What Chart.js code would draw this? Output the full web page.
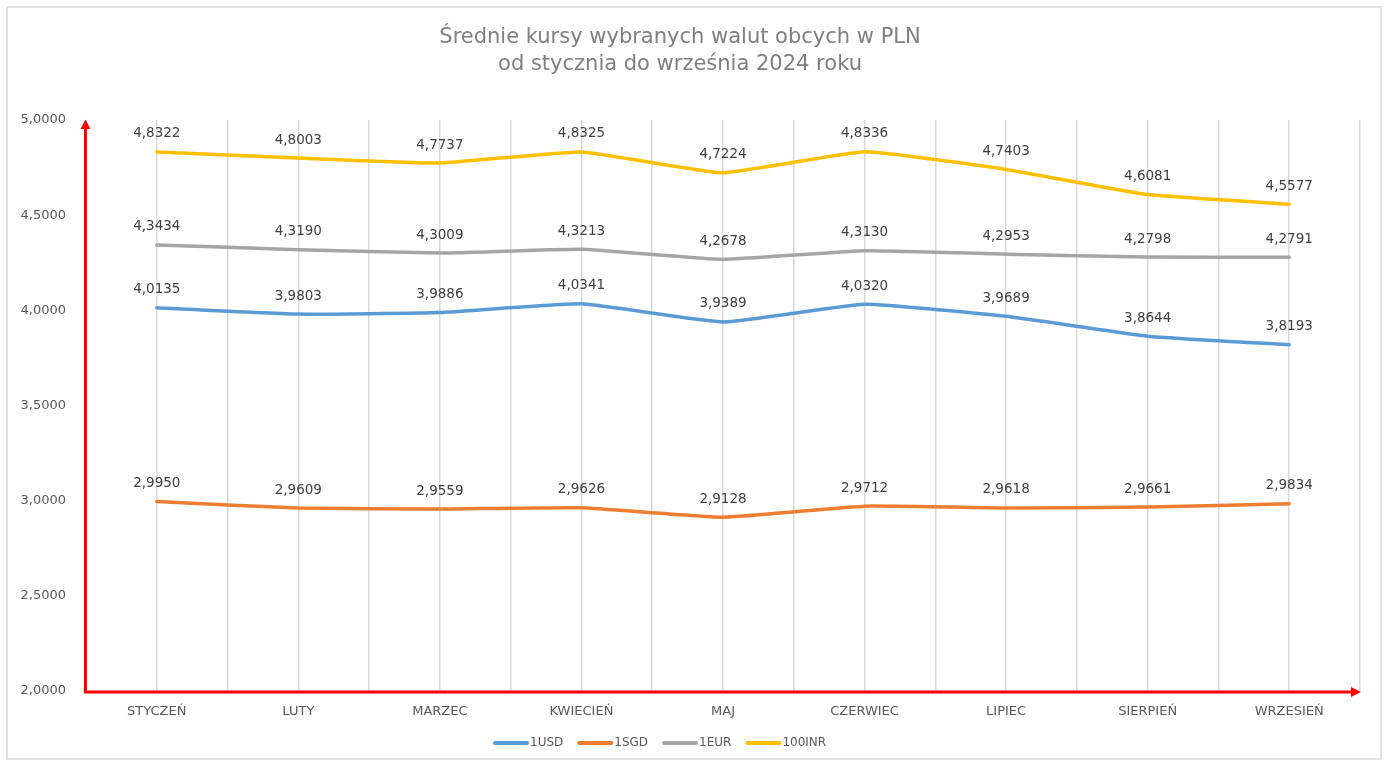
<!DOCTYPE html>
<html>
<head>
<meta charset="utf-8">
<script src="https://cdn.jsdelivr.net/npm/chart.js@4.4.1/dist/chart.umd.min.js"></script>
<style>
html,body{margin:0;padding:0;background:#fff;}
#wrap{width:1384px;height:763px;position:relative;}
</style>
</head>
<body>
<div id="wrap"><canvas id="c" width="1384" height="763"></canvas></div>
<script>
const categories = ['STYCZEŃ','LUTY','MARZEC','KWIECIEŃ','MAJ','CZERWIEC','LIPIEC','SIERPIEŃ','WRZESIEŃ'];
const usd = [4.0135, 3.9803, 3.9886, 4.0341, 3.9389, 4.0320, 3.9689, 3.8644, 3.8193];
const sgd = [2.9950, 2.9609, 2.9559, 2.9626, 2.9128, 2.9712, 2.9618, 2.9661, 2.9834];
const eur = [4.3434, 4.3190, 4.3009, 4.3213, 4.2678, 4.3130, 4.2953, 4.2798, 4.2791];
const inr = [4.8322, 4.8003, 4.7737, 4.8325, 4.7224, 4.8336, 4.7403, 4.6081, 4.5577];
const seriesNames = ['1USD','1SGD','1EUR','100INR'];
const titleLines = ['Średnie kursy wybranych walut obcych w PLN','od stycznia do września 2024 roku'];
const yMin = 2, yMax = 5, yStep = 0.5;

const FONT = "'DejaVu Sans', sans-serif";
const fmt = v => v.toFixed(4).replace('.', ',');
const toPts = arr => arr.map((v, i) => ({x: i, y: v}));

const colors = ['#5B9BD5', '#ED7D31', '#A5A5A5', '#FFC000'];
const seriesData = [usd, sgd, eur, inr];

const labelsPlugin = {
  id: 'valueLabels',
  afterDatasetsDraw(chart) {
    const ctx = chart.ctx;
    ctx.save();
    ctx.font = "13.5px " + FONT;
    ctx.fillStyle = '#404040';
    ctx.textAlign = 'center';
    ctx.textBaseline = 'middle';
    chart.data.datasets.forEach((ds, di) => {
      const meta = chart.getDatasetMeta(di);
      meta.data.forEach((pt, i) => {
        ctx.fillText(fmt(ds.data[i].y), pt.x, pt.y - 18);
      });
    });
    ctx.restore();
  }
};

const legendPlugin = {
  id: 'customLegend',
  afterDraw(chart) {
    const ctx = chart.ctx;
    ctx.save();
    ctx.font = "12px " + FONT;
    ctx.textBaseline = 'middle';
    ctx.textAlign = 'left';
    let x = 494;
    const y = 743;
    chart.data.datasets.forEach(ds => {
      ctx.strokeStyle = ds.borderColor;
      ctx.lineWidth = 4;
      ctx.lineCap = 'round';
      ctx.beginPath();
      ctx.moveTo(x + 1, y);
      ctx.lineTo(x + 33, y);
      ctx.stroke();
      ctx.fillStyle = '#595959';
      ctx.fillText(ds.label, x + 36, y);
      x += 36 + ctx.measureText(ds.label).width + 15;
    });
    ctx.restore();
  }
};

const axesPlugin = {
  id: 'redAxes',
  afterDraw(chart) {
    const ctx = chart.ctx;
    const a = chart.chartArea;
    ctx.save();
    ctx.strokeStyle = '#d9d9d9';
    ctx.lineWidth = 1.5;
    ctx.strokeRect(7, 7, 1374, 752);
    ctx.strokeStyle = '#ff0000';
    ctx.fillStyle = '#ff0000';
    ctx.lineWidth = 3;
    const x0 = a.left - 0.5, y0 = a.bottom + 1;
    ctx.beginPath();
    ctx.moveTo(x0, y0);
    ctx.lineTo(x0, a.top + 8);
    ctx.moveTo(x0 - 1.5, y0);
    ctx.lineTo(a.right - 8, y0);
    ctx.stroke();
    ctx.beginPath();
    ctx.moveTo(x0, a.top - 0.5);
    ctx.lineTo(x0 - 5, a.top + 9);
    ctx.lineTo(x0 + 5, a.top + 9);
    ctx.closePath();
    ctx.fill();
    ctx.beginPath();
    ctx.moveTo(a.right + 1, y0);
    ctx.lineTo(a.right - 9, y0 - 5);
    ctx.lineTo(a.right - 9, y0 + 5);
    ctx.closePath();
    ctx.fill();
    ctx.restore();
  }
};

new Chart(document.getElementById('c'), {
  type: 'line',
  data: {
    datasets: seriesNames.map((n, i) => ({
      label: n,
      data: toPts(seriesData[i]),
      borderColor: colors[i],
      backgroundColor: colors[i],
      borderWidth: 3.5,
      pointRadius: 0,
      pointHoverRadius: 0,
      tension: 0.12,
      borderCapStyle: 'round',
      borderJoinStyle: 'round',
      fill: false
    }))
  },
  options: {
    responsive: false,
    animation: false,
    events: [],
    layout: {padding: {left: 0, right: 24, top: 0, bottom: 32}},
    plugins: {
      title: {
        display: true,
        text: titleLines,
        color: '#7f7f7f',
        font: {family: FONT, size: 21, weight: 'normal', lineHeight: 1.286},
        padding: {top: 24, bottom: 42}
      },
      legend: {display: false},
      tooltip: {enabled: false}
    },
    scales: {
      x: {
        type: 'linear',
        min: -0.5,
        max: categories.length - 0.5,
        afterBuildTicks(scale) {
          const t = [];
          for (let v = -0.5; v <= categories.length - 0.5 + 1e-9; v += 0.5) t.push({value: v});
          scale.ticks = t;
        },
        afterFit(scale) { scale.height = 40; },
        ticks: {
          autoSkip: false,
          maxRotation: 0,
          padding: 13,
          color: '#595959',
          font: {family: FONT, size: 13},
          callback(v) {
            return Number.isInteger(v) ? categories[v] : '';
          }
        },
        grid: {color: '#d9d9d9', lineWidth: 1.5, drawTicks: false},
        border: {display: false}
      },
      y: {
        min: yMin,
        max: yMax,
        afterFit(scale) { scale.width = 86; },
        ticks: {
          stepSize: yStep,
          padding: 20,
          color: '#595959',
          font: {family: FONT, size: 13},
          callback: v => fmt(v)
        },
        grid: {display: false, drawTicks: false},
        border: {display: false}
      }
    }
  },
  plugins: [labelsPlugin, legendPlugin, axesPlugin]
});
</script>
</body>
</html>
